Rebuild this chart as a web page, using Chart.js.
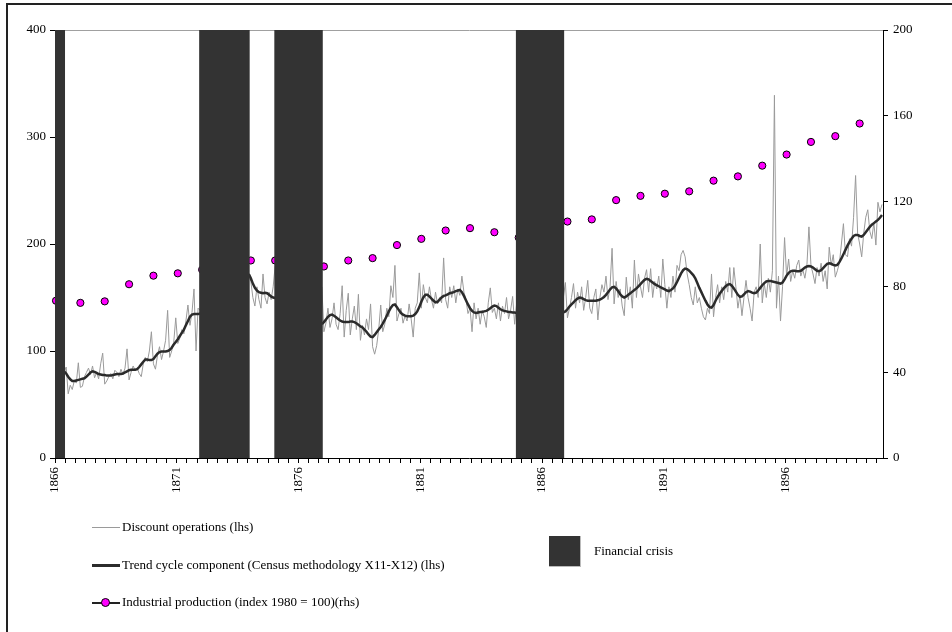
<!DOCTYPE html>
<html>
<head>
<meta charset="utf-8">
<script src="https://cdn.jsdelivr.net/npm/chart.js@4.4.1/dist/chart.umd.min.js"></script>
<style>
  body { margin: 0; background: #fff; }
  #wrap { position: relative; width: 952px; height: 632px; overflow: hidden; background: #fff;
          font-family: "Liberation Serif", "Times New Roman", serif; }
  #frame { position: absolute; left: 6px; top: 3px; width: 960px; height: 640px;
           border-left: 2px solid #222; border-top: 2px solid #222; }
  canvas { position: absolute; left: 0; top: 0; }
  .txt { position: absolute; font-size: 13px; color: #000; white-space: nowrap; line-height: 16px; }
  .ln { position: absolute; }
</style>
</head>
<body>
<div id="wrap">
  <canvas id="chart" width="952" height="632"></canvas>
  <div id="frame"></div>

  <div class="ln" style="left:92px;top:527px;width:28px;height:1px;background:#9a9a9a"></div>
  <div class="txt" style="left:122px;top:519px">Discount operations (lhs)</div>

  <div class="ln" style="left:92px;top:564px;width:28px;height:3px;background:#2b2b2b"></div>
  <div class="txt" style="left:122px;top:557px">Trend cycle component (Census methodology X11-X12) (lhs)</div>

  <div class="ln" style="left:92px;top:602px;width:28px;height:1.5px;background:#222"></div>
  <div class="ln" style="left:101px;top:598px;width:7px;height:7px;border-radius:50%;background:#ff00ff;border:1px solid #000"></div>
  <div class="txt" style="left:122px;top:594px">Industrial production (index 1980 = 100)(rhs)</div>

  <div class="ln" style="left:549px;top:536px;width:31px;height:30px;background:#333;border-right:1px solid #bbb;border-bottom:1px solid #bbb"></div>
  <div class="txt" style="left:594px;top:543px">Financial crisis</div>
</div>

<script>
// ==== Data ====
const START_YEAR = 1866;
const MONTHS = 408; // Jan 1866 .. Dec 1899

// Discount operations, monthly (lhs); null where hidden by the crisis bands
const discountOps = [
  null, null, null, null, 80, 85, 60, 68, 64, 72, 70, 89,          // 1866
  66, 67, 76, 80, 84, 78, 86, 75, 80, 74, 88, 98,                  // 1867
  69, 72, 76, 79, 74, 82, 80, 76, 83, 78, 84, 102,                 // 1868
  73, 80, 86, 82, 84, 79, 76, 88, 94, 90, 100, 118,                // 1869
  88, 83, 96, 104, 92, 100, 110, 138, 94, 100, 108, 131,           // 1870
  107, 112, 120, 116, 128, 143, 124, 136, 158, 100, 140, 138,      // 1871
  null, null, null, null, null, null, null, null, null, null, null, null, // 1872
  null, null, null, null, null, null, null, null, null, null, null, 170,  // 1873
  165, 150, 142, 160, 148, 140, 172, 150, 144, 155, 148, 160,      // 1874
  180, null, null, null, null, null, null, null, null, null, null, null,  // 1875
  null, null, null, null, null, null, null, null, null, null, null, 160,  // 1876
  118, 126, 140, 122, 130, 145, 125, 120, 135, 161, 113, 138,      // 1877
  154, 115, 130, 142, 120, 153, 110, 124, 115, 130, 120, 144,      // 1878
  104, 97, 105, 120, 143, 118, 125, 140, 132, 161, 150, 180,       // 1879
  128, 135, 140, 126, 133, 128, 144, 130, 113, 140, 145, 173,      // 1880
  140, 162, 150, 145, 160, 148, 140, 155, 144, 150, 145, 187,      // 1881
  148, 140, 160, 150, 161, 145, 158, 152, 170, 155, 148, 135,      // 1882
  140, 118, 145, 130, 140, 125, 138, 132, 122, 145, 159, 136,      // 1883
  140, 130, 145, 128, 142, 135, 150, 130, 138, 151, 125, 145,      // 1884
  140, null, null, null, null, null, null, null, null, null, null, null,  // 1885
  null, null, null, null, null, null, null, null, null, null, 150, 164,   // 1886
  131, 140, 150, 163, 140, 155, 145, 160, 138, 150, 166, 140,      // 1887
  135, 150, 158, 129, 150, 162, 155, 170, 148, 160, 196, 144,      // 1888
  165, 150, 158, 142, 133, 169, 148, 160, 140, 185, 150, 172,      // 1889
  160, 150, 168, 176, 155, 177, 150, 165, 158, 170, 150, 186,      // 1890
  162, 140, 160, 150, 170, 155, 180, 175, 190, 194, 188, 172,      // 1891
  162, 150, 143, 160, 145, 150, 140, 132, 129, 140, 135, 172,      // 1892
  132, 150, 162, 145, 160, 148, 165, 155, 178, 150, 178, 160,      // 1893
  140, 152, 133, 150, 166, 150, 140, 128, 155, 160, 150, 200,      // 1894
  145, 163, 150, 168, 155, 175, 339, 140, 170, 128, 160, 206,      // 1895
  170, 186, 165, 175, 168, 180, 185, 170, 176, 168, 180, 216,      // 1896
  180, 172, 163, 178, 170, 182, 165, 175, 158, 197, 180, 190,      // 1897
  169, 175, 182, 200, 219, 190, 188, 205, 198, 225, 264, 210,      // 1898
  200, 188, 210, 225, 232, 212, 205, 220, 199, 239, 230, 237       // 1899
];

// Trend cycle component (X11-X12), monthly (lhs)
const trendCycle = [
  null, null, null, null, 81, 79, 76, 73.5, 72, 72, 72.5, 73,
  73.5, 74, 74.5, 76, 78, 80, 81, 80.5, 79.5, 78.5, 78, 77.5,
  77.5, 77, 77, 77, 77.5, 78, 78.5, 78.5, 78.5, 79, 80, 81,
  82, 82.5, 82.5, 82.5, 83, 85, 87.5, 90, 92, 92, 91.5, 91.5,
  92.5, 95, 97.5, 99, 99.5, 99.5, 99.5, 100, 101, 103, 106, 108.5,
  111, 114, 117, 120, 124, 128, 132, 134, 134.5, 134.5, 134.5, 135,
  null, null, null, null, null, null, null, null, null, null, null, null,
  null, null, null, null, null, null, null, null, null, null, null, 172,
  168, 163, 159, 156.5, 155, 154.5, 154, 154.5, 154, 152.5, 151, 150,
  149.5, null, null, null, null, null, null, null, null, null, null, null,
  null, null, null, null, null, null, null, null, null, null, null, 125,
  127, 129.5, 132, 133.5, 134, 133, 131.5, 130, 128.5, 127.5, 127, 127,
  127, 127.5, 127.5, 127, 126, 124.5, 123, 122, 120, 118, 115.5, 113.5,
  113, 115, 117.5, 120, 122.5, 125.5, 129, 133, 137, 140.5, 143, 143.5,
  141, 138, 135.5, 134, 133, 132.5, 132.5, 132.5, 133, 134.5, 137, 141,
  146, 150, 152.5, 152.5, 151, 149, 147, 145.5, 146, 148, 150, 151.5,
  152, 153, 154, 154.5, 155, 156, 156.5, 157, 155, 151.5, 147.5, 143.5,
  140, 137.5, 136, 135.5, 136, 136.5, 136.5, 137, 137.5, 138.5, 140, 141.5,
  142.5, 142, 140.5, 139, 138, 137.5, 137, 136.5, 136.5, 136, 136, 135.5,
  135.5, null, null, null, null, null, null, null, null, null, null, null,
  null, null, null, null, null, null, null, null, null, null, 136, 137,
  139, 141.5, 143.5, 145.5, 147.5, 149, 150, 149.5, 148.5, 147.5, 147, 147,
  147, 147, 147, 147.5, 148, 149, 150.5, 152.5, 155, 157.5, 159.5, 160,
  158.5, 156, 153, 151, 150, 151, 152.5, 154, 155.5, 157, 158.5, 160.5,
  162.5, 164.5, 166.5, 167.5, 167, 165.5, 164, 162.5, 161.5, 160.5, 159.5, 158.5,
  157.5, 156.5, 156, 157, 158.5, 161, 164.5, 168.5, 172.5, 175.5, 177, 176.5,
  175, 173, 171, 168, 163.5, 159, 155, 151, 147, 143.5, 141, 140.5,
  143, 147, 150.5, 153.5, 156, 158.5, 160.5, 162, 162.5, 161, 158.5, 155.5,
  152.5, 150.5, 151, 153, 155, 156, 155.5, 154.5, 154, 154.5, 156.5, 159,
  161.5, 163.5, 165, 165.5, 165.5, 165, 164.5, 164, 163.5, 163, 164, 167,
  170.5, 173, 174.5, 175, 175, 174.5, 174.5, 175, 176.5, 178, 179, 179.5,
  179, 178, 176.5, 175, 174.5, 175.5, 177.5, 179.5, 181.5, 182, 181.5, 180.5,
  180, 180.5, 183, 186.5, 190.5, 194.5, 198.5, 202, 205, 207.5, 208.5, 208.5,
  207.5, 207, 208.5, 211, 213.5, 216, 218, 219.5, 221, 222.5, 224.5, 227
];

// Industrial production, yearly 1866..1899 (rhs)
const industrialProd = [
  73.5, 72.5, 73.2, 81.2, 85.2, 86.3, 88, 91, 92.3, 92.3,
  91, 89.5, 92.3, 93.4, 99.5, 102.4, 106.3, 107.4, 105.5, 103,
  106, 110.5, 111.5, 120.5, 122.5, 123.5, 124.6, 129.6, 131.6, 136.6,
  141.8, 147.7, 150.4, 156.3
];

// Financial crisis bands, in months from Jan 1866
const crisisFrom = [0, 71, 108, 227];
const crisisTo   = [5, 96, 132, 251];

// ==== Build datasets ====
const monthly = (arr) => arr.map((v, i) => ({ x: i + 0.5, y: v }));
const yearly  = industrialProd.map((v, k) => ({ x: k * 12 + 0.5, y: v }));

const crisisPts = [];
crisisFrom.forEach((f, k) => {
  crisisPts.push({ x: f, y: 400 }, { x: crisisTo[k], y: 400 }, { x: crisisTo[k], y: null });
});

const serif = "'Liberation Serif', 'Times New Roman', serif";
const tickFont = { family: serif, size: 13 };

new Chart(document.getElementById("chart").getContext("2d"), {
  type: "line",
  data: {
    datasets: [
      { label: "Financial crisis", data: crisisPts, yAxisID: "y", order: 0,
        borderWidth: 0, pointRadius: 0, fill: "origin",
        backgroundColor: "#333333", borderColor: "#333333", spanGaps: false },
      { label: "Industrial production (index 1980 = 100)(rhs)", data: yearly, yAxisID: "y1", order: 1,
        showLine: false, pointRadius: 3.6, pointBackgroundColor: "#ff00ff",
        pointBorderColor: "#000", pointBorderWidth: 1, clip: false },
      { label: "Trend cycle component (Census methodology X11-X12) (lhs)", data: monthly(trendCycle),
        yAxisID: "y", order: 2, borderColor: "#2b2b2b", borderWidth: 2.5, pointRadius: 0 },
      { label: "Discount operations (lhs)", data: monthly(discountOps), yAxisID: "y", order: 3,
        borderColor: "#9a9a9a", borderWidth: 1, pointRadius: 0 }
    ]
  },
  options: {
    responsive: false,
    animation: false,
    devicePixelRatio: 1,
    layout: { padding: { top: 30, left: 0, right: 0, bottom: 0 } },
    plugins: { legend: { display: false }, tooltip: { enabled: false } },
    scales: {
      x: {
        type: "linear", min: 0, max: MONTHS,
        afterFit: (s) => { s.height = 174; },
        border: { color: "#000", width: 1 },
        grid: { drawOnChartArea: false, tickLength: 5, tickColor: "#000" },
        ticks: {
          stepSize: 5, includeBounds: false, autoSkip: false,
          minRotation: 90, maxRotation: 90, padding: 4,
          color: "#000", font: tickFont,
          callback: (v) => (v % 60 === 0 ? String(START_YEAR + v / 12) : "")
        }
      },
      y: {
        position: "left", min: 0, max: 400,
        afterFit: (s) => { s.width = 55; },
        border: { color: "#000", width: 1 },
        grid: {
          tickLength: 5, tickColor: "#000",
          color: (c) => (c.tick && c.tick.value === 400 ? "#a0a0a0" : "rgba(0,0,0,0)")
        },
        ticks: { stepSize: 100, padding: 4, color: "#000", font: tickFont }
      },
      y1: {
        position: "right", min: 0, max: 200,
        afterFit: (s) => { s.width = 69; },
        border: { color: "#000", width: 1 },
        grid: { drawOnChartArea: false, tickLength: 5, tickColor: "#000" },
        ticks: { stepSize: 40, padding: 5, color: "#000", font: tickFont }
      }
    }
  }
});
</script>
</body>
</html>
